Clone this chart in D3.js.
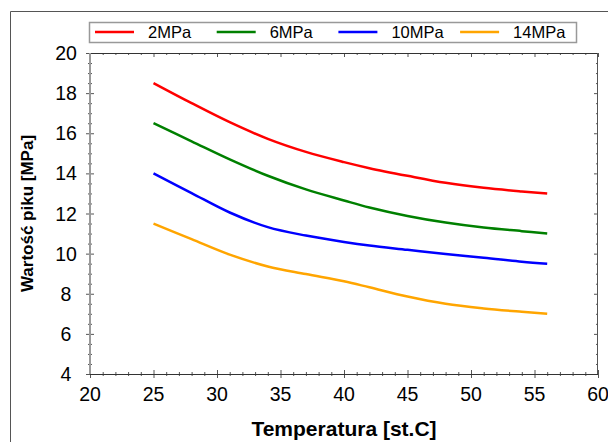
<!DOCTYPE html>
<html><head><meta charset="utf-8">
<script src="https://cdn.jsdelivr.net/npm/d3@7"></script>
<style>html,body{margin:0;padding:0;background:#fff;}svg{display:block;}</style>
</head><body>
<svg id="chart" width="608" height="442"></svg>
<script>
const temps = [25, 28, 31, 34, 37, 40, 42, 45, 48, 51, 54, 56];
const s2MPa  = [18.5, 17.5, 16.55, 15.72, 15.07, 14.56, 14.26, 13.88, 13.53, 13.28, 13.1, 13.0];
const s6MPa  = [16.5, 15.6, 14.7, 13.88, 13.2, 12.65, 12.3, 11.88, 11.55, 11.3, 11.12, 11.0];
const s10MPa = [14.0, 13.02, 12.05, 11.32, 10.9, 10.58, 10.4, 10.19, 9.98, 9.8, 9.6, 9.5];
const s14MPa = [11.5, 10.72, 9.95, 9.36, 8.98, 8.62, 8.32, 7.86, 7.5, 7.27, 7.1, 7.0];
const seriesNames = ["2MPa", "6MPa", "10MPa", "14MPa"];
const seriesColors = ["#ff0000", "#008000", "#0000ff", "#ffa500"];
const xTicks = [20, 25, 30, 35, 40, 45, 50, 55, 60];
const yTicks = [4, 6, 8, 10, 12, 14, 16, 18, 20];
const xLabel = "Temperatura [st.C]";
const yLabel = "Wartość piku [MPa]";

const allSeries = [s2MPa, s6MPa, s10MPa, s14MPa];
const svg = d3.select("#chart");
const font = "'Liberation Sans', Arial, sans-serif";

const L = 90, R = 598, T = 53, B = 374;
const x = d3.scaleLinear().domain([20, 60]).range([L, R]);
const y = d3.scaleLinear().domain([4, 20]).range([B, T]);

svg.append("path").attr("d", `M10.5,442 V11.5 H608`).attr("fill", "none").attr("stroke", "#555").attr("stroke-width", 1);

const xMinor = d3.range(20, 60.01, 1).filter(v => v % 5 !== 0);
const yMinor = d3.range(4, 20.01, 0.5).filter(v => v % 2 !== 0);

const g = svg.append("g");
g.append("g").attr("transform", `translate(0,${B})`).call(d3.axisBottom(x).tickValues(xTicks).tickSize(4).tickFormat(""));
g.append("g").attr("transform", `translate(0,${B})`).call(d3.axisTop(x).tickValues(xTicks).tickSize(4).tickFormat(""));
g.append("g").attr("transform", `translate(0,${B})`).call(d3.axisBottom(x).tickValues(xMinor).tickSize(2).tickFormat(""));
g.append("g").attr("transform", `translate(0,${B})`).call(d3.axisTop(x).tickValues(xMinor).tickSize(2).tickFormat(""));
g.append("g").attr("transform", `translate(0,${T})`).call(d3.axisBottom(x).tickValues(xTicks).tickSize(4).tickFormat(""));
g.append("g").attr("transform", `translate(0,${T})`).call(d3.axisBottom(x).tickValues(xMinor).tickSize(2).tickFormat(""));
g.append("g").attr("transform", `translate(${L},0)`).call(d3.axisLeft(y).tickValues(yTicks).tickSize(4).tickFormat(""));
g.append("g").attr("transform", `translate(${L},0)`).call(d3.axisRight(y).tickValues(yTicks).tickSize(4).tickFormat(""));
g.append("g").attr("transform", `translate(${L},0)`).call(d3.axisLeft(y).tickValues(yMinor).tickSize(2).tickFormat(""));
g.append("g").attr("transform", `translate(${L},0)`).call(d3.axisRight(y).tickValues(yMinor).tickSize(2).tickFormat(""));
g.append("g").attr("transform", `translate(${R},0)`).call(d3.axisLeft(y).tickValues(yTicks).tickSize(4).tickFormat(""));
g.append("g").attr("transform", `translate(${R},0)`).call(d3.axisLeft(y).tickValues(yMinor).tickSize(2).tickFormat(""));
g.selectAll(".domain").remove();
g.selectAll(".tick line").attr("stroke", "#555").attr("stroke-width", 1);

svg.append("line").attr("x1", L).attr("x2", R).attr("y1", B + 0.5).attr("y2", B + 0.5).attr("stroke", "#333");
svg.append("line").attr("x1", L).attr("x2", R).attr("y1", T + 0.5).attr("y2", T + 0.5).attr("stroke", "#333");
svg.append("line").attr("x1", L).attr("x2", L).attr("y1", T).attr("y2", B).attr("stroke", "#999").attr("stroke-width", 2);
svg.append("line").attr("x1", R - 0.5).attr("x2", R - 0.5).attr("y1", T).attr("y2", B).attr("stroke", "#555");

svg.append("g").selectAll("text").data(xTicks).join("text")
  .attr("x", d => x(d)).attr("y", 401).attr("text-anchor", "middle")
  .attr("font-family", font).attr("font-size", 19.5).attr("fill", "#000").text(d => d);
svg.append("g").selectAll("text").data(yTicks).join("text")
  .attr("x", 66).attr("y", d => y(d) + 7).attr("text-anchor", "middle")
  .attr("font-family", font).attr("font-size", 19.5).attr("fill", "#000").text(d => d);

svg.append("text").attr("x", (L + R) / 2).attr("y", 436).attr("text-anchor", "middle")
  .attr("font-family", font).attr("font-size", 21).attr("font-weight", "bold").text(xLabel);
svg.append("text").attr("transform", `translate(33,${(T + B) / 2}) rotate(-90)`).attr("text-anchor", "middle")
  .attr("font-family", font).attr("font-size", 17).attr("font-weight", "bold").text(yLabel);

const line = d3.line().x((d, i) => x(temps[i])).y(d => y(d)).curve(d3.curveCatmullRom.alpha(0.5));
svg.append("g").selectAll("path").data(allSeries).join("path")
  .attr("d", d => line(d)).attr("fill", "none")
  .attr("stroke", (d, i) => seriesColors[i]).attr("stroke-width", 2.5);

const lg = svg.append("g");
lg.append("rect").attr("x", 89.5).attr("y", 22.5).attr("width", 487).attr("height", 20)
  .attr("fill", "#fff").attr("stroke", "#999").attr("stroke-width", 1.5);
seriesNames.forEach((name, i) => {
  const lx = 95 + i * 121.7;
  lg.append("line").attr("x1", lx).attr("x2", lx + 39).attr("y1", 32).attr("y2", 32)
    .attr("stroke", seriesColors[i]).attr("stroke-width", 2.5);
  lg.append("text").attr("x", lx + 53).attr("y", 38.3).attr("font-family", font)
    .attr("font-size", 16.5).attr("fill", "#000").text(name);
});
</script>
</body></html>
